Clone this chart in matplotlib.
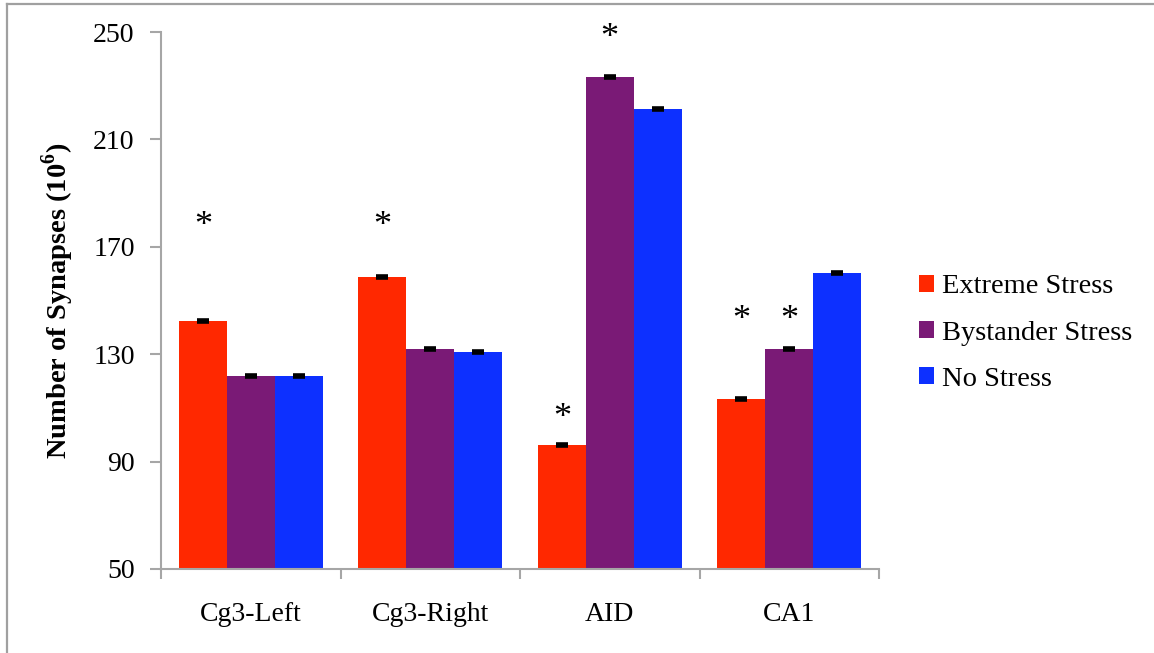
import matplotlib
matplotlib.use("Agg")
import matplotlib.pyplot as plt
from matplotlib.patches import Patch
from matplotlib.lines import Line2D
import matplotlib.transforms as mtransforms
import numpy as np

plt.rcParams["font.family"] = ["Liberation Serif", "DejaVu Serif"]
plt.rcParams["mathtext.fontset"] = "custom"
plt.rcParams["mathtext.rm"] = "Liberation Serif"
plt.rcParams["mathtext.bf"] = "Liberation Serif:bold"

# Regions and group means (10^6 synapses)
regions = ["Cg3-Left", "Cg3-Right", "AID", "CA1"]
series_names = ["Extreme Stress", "Bystander Stress", "No Stress"]
extreme = [142.4, 158.8, 96.2, 113.3]
bystander = [121.9, 131.9, 233.2, 131.9]
no_stress = [121.9, 130.8, 221.3, 160.2]
errors = [0.4, 0.4, 0.4, 0.4]
colors = ["#FF2800", "#7A1A76", "#0D30FF"]

# Significance markers: (region index, series index, height of marker)
sig_marks = [(0, 0, 180), (1, 0, 180), (2, 0, 108.5), (2, 1, 250), (3, 0, 145), (3, 1, 145)]

yticks = [50, 90, 130, 170, 210, 250]

FS = 20

fig = plt.figure(figsize=(11.54, 6.53), dpi=100)
ax = fig.add_axes([161 / 1154, 1 - 569 / 653, 718 / 1154, 537 / 653])

x = np.arange(len(regions))
width = 0.2665
offsets = [-width, 0, width]
all_series = [extreme, bystander, no_stress]
for vals, off, col, name in zip(all_series, offsets, colors, series_names):
    ax.bar(x + off, vals, width, color=col, label=name, zorder=2)
    ax.errorbar(x + off, vals, yerr=errors, fmt="none", ecolor="black",
                elinewidth=1.5, capsize=4.3, capthick=2.6, zorder=3)

# asterisks sit a few pixels lower than the text box centre
star_shift = mtransforms.offset_copy(ax.transData, fig=fig, x=0, y=-7, units="dots")
for ri, si, h in sig_marks:
    ax.text(x[ri] + offsets[si], h, "*", ha="center", va="center",
            fontsize=26, color="black", zorder=4, transform=star_shift)

ax.set_xlim(-0.5, len(regions) - 0.5)
ax.set_ylim(50, 250)
ax.set_yticks(yticks)
ax.set_xticks(x)
ax.set_xticklabels(regions)
ax.set_xticks(np.arange(-0.5, len(regions), 1.0), minor=True)

spine_col = "#A6A6A6"
for s in ["top", "right"]:
    ax.spines[s].set_visible(False)
for s in ["left", "bottom"]:
    ax.spines[s].set_color(spine_col)
    ax.spines[s].set_linewidth(1.5)

ax.tick_params(axis="y", direction="out", length=8, width=1.5, color=spine_col,
               labelsize=FS, pad=11)
ax.tick_params(axis="x", which="major", length=0, labelsize=FS, pad=24)
ax.tick_params(axis="x", which="minor", direction="out", length=7, width=1.5,
               color=spine_col)

ax.set_ylabel(r"Number of Synapses (10$^{\mathbf{6}}$)", fontsize=FS + 0.5,
              fontweight="bold", labelpad=12)

handles = [Patch(facecolor=c, edgecolor="none") for c in colors]
fig.legend(handles, series_names, loc="center left",
           bbox_to_anchor=(919 / 1154, 1 - 333 / 653), frameon=False,
           fontsize=FS + 0.5, handlelength=0.52, handleheight=0.52,
           handletextpad=0.3, labelspacing=0.74, borderpad=0, borderaxespad=0)

# Thin frame along the top and left edges of the figure
fig.add_artist(Line2D([7 / 1154, 1.0], [1 - 4 / 653, 1 - 4 / 653],
                      transform=fig.transFigure, color="#A0A0A0", lw=1.6))
fig.add_artist(Line2D([7 / 1154, 7 / 1154], [0.0, 1 - 4 / 653],
                      transform=fig.transFigure, color="#A0A0A0", lw=1.6))

fig.savefig("out.png", dpi=100)
